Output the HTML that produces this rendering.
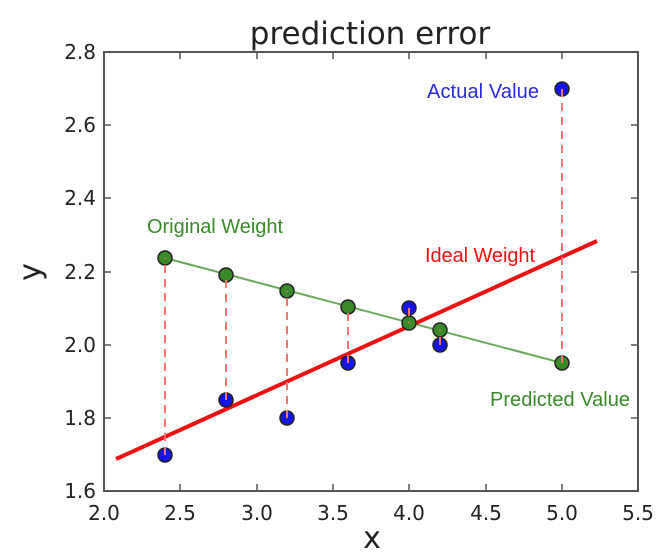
<!DOCTYPE html>
<html><head><style>body{margin:0;background:#fff}svg{display:block}</style></head><body>
<svg width="669" height="557" viewBox="0 0 669 557" xmlns="http://www.w3.org/2000/svg" font-family="'DejaVu Sans','Liberation Sans',sans-serif">
<rect width="669" height="557" fill="#fff"/>
<text x="370" y="44" font-size="31" text-anchor="middle" fill="#222">prediction error</text>
<line x1="165" y1="258" x2="562" y2="363" stroke="#6aaa5a" stroke-width="2"/>
<line x1="116" y1="459" x2="597" y2="241" stroke="#ee1111" stroke-width="4"/>
<g fill="#1515e8" stroke="#222" stroke-width="1.5">
<circle cx="165" cy="455" r="7"/><circle cx="226" cy="400" r="7"/><circle cx="287" cy="418" r="7"/>
<circle cx="348" cy="363" r="7"/><circle cx="409" cy="308" r="7"/><circle cx="440" cy="345" r="7"/><circle cx="562" cy="89" r="7"/>
</g>
<g fill="#3a8a2a" stroke="#222" stroke-width="1.5">
<circle cx="165" cy="258" r="7"/><circle cx="226" cy="275" r="7"/><circle cx="287" cy="291" r="7"/>
<circle cx="348" cy="307" r="7"/><circle cx="409" cy="323" r="7"/><circle cx="440" cy="330" r="7"/><circle cx="562" cy="363" r="7"/>
</g>
<g stroke="#ff7070" stroke-width="2" stroke-dasharray="8,6">
<line x1="165" y1="455" x2="165" y2="258"/>
<line x1="226" y1="400" x2="226" y2="275"/>
<line x1="287" y1="418" x2="287" y2="291"/>
<line x1="348" y1="363" x2="348" y2="309"/>
<line x1="409" y1="308" x2="409" y2="323"/>
<line x1="440" y1="345" x2="440" y2="330"/>
<line x1="562" y1="89" x2="562" y2="363"/>
</g>
<rect x="104" y="52" width="534" height="439" fill="none" stroke="#555" stroke-width="2"/>
<g stroke="#555" stroke-width="1.5">
<line x1="180" y1="491" x2="180" y2="484"/><line x1="257" y1="491" x2="257" y2="484"/><line x1="333" y1="491" x2="333" y2="484"/><line x1="409" y1="491" x2="409" y2="484"/><line x1="486" y1="491" x2="486" y2="484"/><line x1="562" y1="491" x2="562" y2="484"/>
<line x1="180" y1="52" x2="180" y2="59"/><line x1="257" y1="52" x2="257" y2="59"/><line x1="333" y1="52" x2="333" y2="59"/><line x1="409" y1="52" x2="409" y2="59"/><line x1="486" y1="52" x2="486" y2="59"/><line x1="562" y1="52" x2="562" y2="59"/>
<line x1="104" y1="418" x2="111" y2="418"/><line x1="104" y1="345" x2="111" y2="345"/><line x1="104" y1="272" x2="111" y2="272"/><line x1="104" y1="198" x2="111" y2="198"/><line x1="104" y1="125" x2="111" y2="125"/>
<line x1="638" y1="418" x2="631" y2="418"/><line x1="638" y1="345" x2="631" y2="345"/><line x1="638" y1="272" x2="631" y2="272"/><line x1="638" y1="198" x2="631" y2="198"/><line x1="638" y1="125" x2="631" y2="125"/>
</g>
<g font-size="20" fill="#222" text-anchor="middle">
<text x="104" y="520">2.0</text><text x="180" y="520">2.5</text><text x="257" y="520">3.0</text><text x="333" y="520">3.5</text><text x="409" y="520">4.0</text><text x="486" y="520">4.5</text><text x="562" y="520">5.0</text><text x="638" y="520">5.5</text>
</g>
<g font-size="20" fill="#222" text-anchor="end">
<text x="96" y="498">1.6</text><text x="96" y="425">1.8</text><text x="96" y="352">2.0</text><text x="96" y="279">2.2</text><text x="96" y="205">2.4</text><text x="96" y="132">2.6</text><text x="96" y="59">2.8</text>
</g>
<text x="372" y="548" font-size="30" text-anchor="middle" fill="#222">x</text>
<text x="40" y="272" font-size="30" text-anchor="middle" fill="#222" transform="rotate(-90 40 272)">y</text>
<g font-family="'Liberation Sans',sans-serif" font-size="20">
<text x="147" y="233" fill="#3a8a2a" textLength="136">Original Weight</text>
<text x="425" y="262" fill="#ee1111" textLength="110">Ideal Weight</text>
<text x="427" y="98" fill="#2a2ae0" textLength="112">Actual Value</text>
<text x="490" y="406" fill="#3a8a2a" textLength="140">Predicted Value</text>
</g>
</svg>
</body></html>
